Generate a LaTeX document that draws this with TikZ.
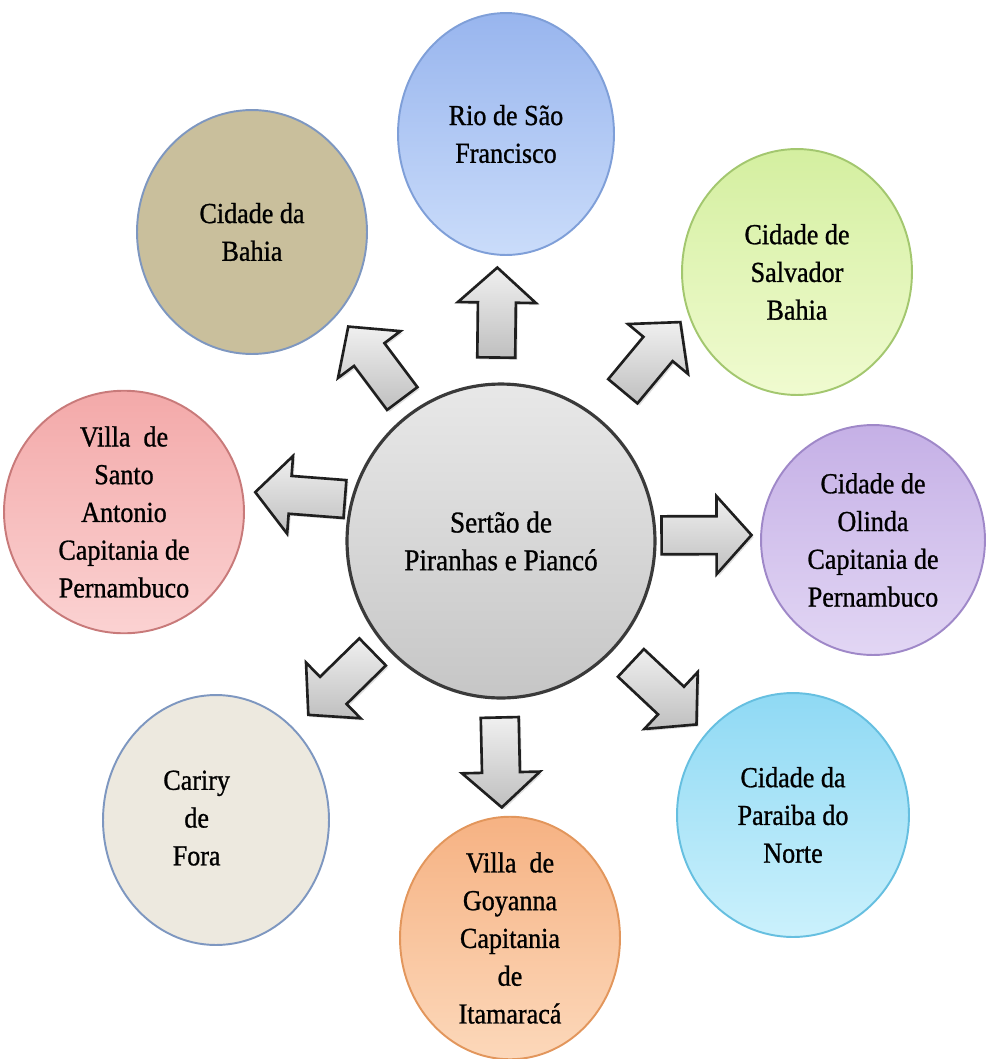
\documentclass[tikz,border=0pt]{standalone}
\usepackage{fontspec}
\setmainfont{Liberation Serif}[FakeStretch=0.9, FakeBold=0.9]
\usetikzlibrary{shapes.geometric,calc,shadows}

\definecolor{rioA}{HTML}{98B5EE}\definecolor{rioB}{HTML}{CADCFA}\definecolor{rioL}{HTML}{7F9FD8}
\definecolor{bahiaF}{HTML}{C9BF9C}\definecolor{slateL}{HTML}{7E97C0}
\definecolor{salA}{HTML}{D4EFA0}\definecolor{salB}{HTML}{F0FBD0}\definecolor{salL}{HTML}{A3C76F}
\definecolor{santoA}{HTML}{F3A9A9}\definecolor{santoB}{HTML}{FBD2D2}\definecolor{santoL}{HTML}{C87A7A}
\definecolor{olA}{HTML}{C5B0E6}\definecolor{olB}{HTML}{E2D6F4}\definecolor{olL}{HTML}{9F88C8}
\definecolor{carF}{HTML}{EDE9DF}
\definecolor{parA}{HTML}{8FD9F4}\definecolor{parB}{HTML}{CBF1FC}\definecolor{parL}{HTML}{66BFE0}
\definecolor{goyA}{HTML}{F6B283}\definecolor{goyB}{HTML}{FCD8BA}\definecolor{goyL}{HTML}{E2965C}
\definecolor{hubA}{HTML}{E8E8E8}\definecolor{hubB}{HTML}{C6C6C6}\definecolor{hubL}{HTML}{3A3A3A}

\tikzset{
  bubble/.style={ellipse, draw, line width=1.1pt, align=center, inner sep=0pt,
    font=\fontsize{16.5}{21.5}\selectfont, text=black},
  size/.style 2 args={minimum width=#1, minimum height=#2},
  hub/.style={ellipse, draw=hubL, line width=1.8pt, top color=hubA, bottom color=hubB,
    align=center, inner sep=0pt, font=\fontsize{17.2}{21.5}\selectfont, text=black},
  blockarrow/.style={draw=black!88, line width=1.5pt, line join=miter,
    top color=gray!12, bottom color=gray!50,
    drop shadow={opacity=0.25, shadow xshift=1.2pt, shadow yshift=-1.2pt}},
}

% block arrow leaving #1 towards #2: middle #3 away from #1,
% moved #4 sideways and turned by #5 degrees
\newcommand\spoke[5]{%
  \path[blockarrow] let \p1=(#1.center), \p2=(#2.center),
      \n1={atan2(\y2-\y1,\x2-\x1)+#5},
      \p3=($($(#1.center)!#3!(#2.center)$)+(\n1-#5+90:#4)$) in
    ($(\p3)+(\n1:-25.6pt)+(\n1+90:10.8pt)$) --
    ($(\p3)+(\n1:5.7pt)+(\n1+90:10.8pt)$) --
    ($(\p3)+(\n1:5.7pt)+(\n1+90:22.2pt)$) --
    ($(\p3)+(\n1:25.6pt)$) --
    ($(\p3)+(\n1:5.7pt)+(\n1-90:22.2pt)$) --
    ($(\p3)+(\n1:5.7pt)+(\n1-90:10.8pt)$) --
    ($(\p3)+(\n1:-25.6pt)+(\n1-90:10.8pt)$) -- cycle;
}

\begin{document}
\begin{tikzpicture}[x=0.02cm, y=-0.02cm]
  \useasboundingbox (0,0) rectangle (986,1059);

  % surrounding places
  \node[bubble, size={4.32cm}{4.84cm}, draw=rioL, top color=rioA, bottom color=rioB]
    (rio) at (506,134) {Rio de São\\Francisco};
  \node[bubble, size={4.6cm}{4.88cm}, draw=slateL, fill=bahiaF]
    (bahia) at (252,232) {Cidade da\\Bahia};
  \node[bubble, size={4.6cm}{4.92cm}, draw=salL, top color=salA, bottom color=salB]
    (salvador) at (797,272) {Cidade de\\Salvador\\Bahia};
  \node[bubble, size={4.8cm}{4.64cm}, draw=santoL, top color=santoA, bottom color=santoB]
    (santo) at (124,512) {Villa\ \ de\\Santo\\Antonio\\Capitania de\\Pernambuco};
  \node[bubble, size={4.48cm}{4.6cm}, draw=olL, top color=olA, bottom color=olB]
    (olinda) at (873,540) {Cidade de\\Olinda\\Capitania de\\Pernambuco};
  \node[bubble, size={4.52cm}{5.0cm}, draw=slateL, fill=carF]
    (cariry) at (216,820)
    {\begin{tabular}{@{}c@{}}Cariry\\de\\Fora\end{tabular}\hspace*{22pt}};
  \node[bubble, size={4.64cm}{4.88cm}, draw=parL, top color=parA, bottom color=parB]
    (paraiba) at (793,815) {Cidade da\\Paraiba do\\Norte};
  \node[bubble, size={4.4cm}{4.8cm}, draw=goyL, top color=goyA, bottom color=goyB]
    (goyanna) at (510,938) {Villa\ \ de\\Goyanna\\Capitania\\de\\Itamaracá};

  % centre
  \node[hub, size={6.16cm}{6.28cm}] (hub) at (501,541) {Sertão de\\Piranhas e Piancó};

  % outgoing arrows
  \spoke{hub}{rio}{130pt}{4pt}{0}
  \spoke{hub}{bahia}{124pt}{-8pt}{-2}
  \spoke{hub}{salvador}{134pt}{20pt}{8}
  \spoke{hub}{santo}{116pt}{-17pt}{0}
  \spoke{hub}{olinda}{117pt}{3pt}{0}
  \spoke{hub}{cariry}{122pt}{-6pt}{0}
  \spoke{hub}{paraiba}{127pt}{0pt}{0}
  \spoke{hub}{goyanna}{126pt}{-3pt}{0}
\end{tikzpicture}
\end{document}
